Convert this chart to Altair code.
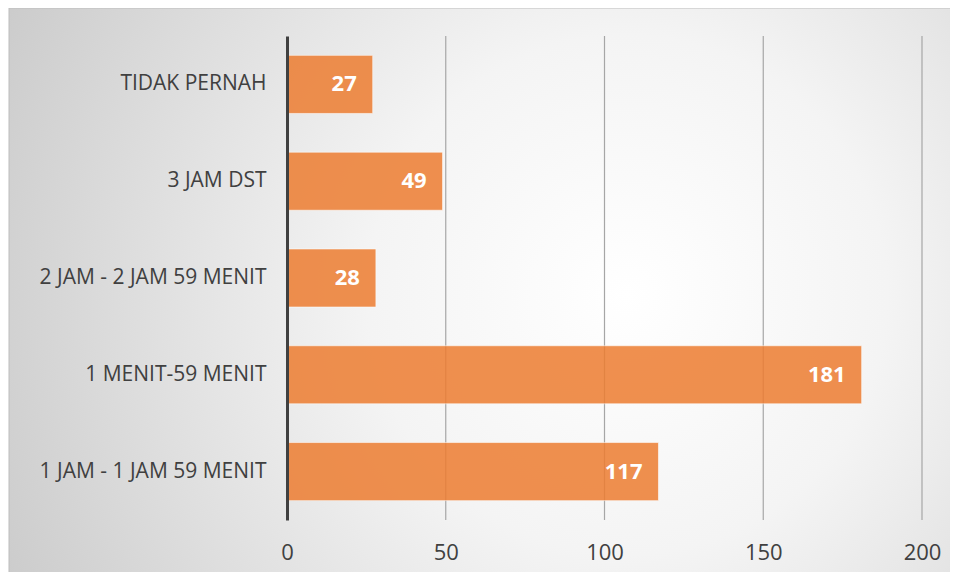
import altair as alt
import pandas as pd

categories = ["TIDAK PERNAH", "3 JAM DST", "2 JAM - 2 JAM 59 MENIT", "1 MENIT-59 MENIT", "1 JAM - 1 JAM 59 MENIT"]
values = [27, 49, 28, 181, 117]
x_ticks = [0, 50, 100, 150, 200]

df = pd.DataFrame({"cat": categories, "val": values})
grid_df = pd.DataFrame({"t": x_ticks[1:]})

W, H = 635, 484
PL, PT, PR, PB = 279, 28, 28, 52
FONT = "Open Sans"

bg = alt.Chart(alt.Data(values=[{"a": 1}])).mark_rect(
    fill=alt.RadialGradient(
        gradient="radial",
        x1=0.65, y1=0.5, r1=0.0,
        x2=0.65, y2=0.5, r2=0.78,
        stops=[alt.GradientStop(offset=0, color="#ffffff"),
               alt.GradientStop(offset=0.35, color="#f4f4f4"),
               alt.GradientStop(offset=1, color="#c6c6c6")],
    ),
    stroke="#bdbdbd", strokeWidth=1,
).encode(
    x=alt.value(-PL + 1), x2=alt.value(W + PR + 10),
    y=alt.value(-PT + 0), y2=alt.value(H + PB + 10),
)

xscale = alt.Scale(domain=[0, 200], nice=False)

grid = alt.Chart(grid_df).mark_rule(color="#a6a6a6", strokeWidth=1.2).encode(
    x=alt.X("t:Q", scale=xscale, title=None),
    y=alt.value(0), y2=alt.value(H),
)

base = alt.Chart(df).encode(
    y=alt.Y("cat:N", sort=categories, title=None,
            scale=alt.Scale(paddingInner=0.4, paddingOuter=0.2),
            axis=alt.Axis(domain=True, domainColor="#404040", domainWidth=3,
                          ticks=False, labelFontSize=21, labelColor="#404040",
                          labelFont=FONT, labelPadding=21, grid=False, labelLimit=300,
                          zindex=1)),
)

bars = base.mark_bar(color="#ED7D31", opacity=0.85, stroke="#ffffff", strokeOpacity=0.6,
                     strokeWidth=1).encode(
    x=alt.X("val:Q", title=None, scale=xscale,
            axis=alt.Axis(values=x_ticks, domain=False, ticks=False, grid=False,
                          labelFontSize=22, labelColor="#404040", labelFont=FONT,
                          labelPadding=22, labelFlush=False, zindex=1)),
)

labels = base.mark_text(align="right", baseline="middle", dx=-16, color="white",
                        fontWeight="bold", fontSize=22, font=FONT).encode(
    x="val:Q", text="val:Q",
)

chart = alt.layer(bg, grid, bars, labels).properties(
    width=W, height=H,
    autosize=alt.AutoSizeParams(type="none"),
    padding={"left": PL, "top": PT, "right": PR, "bottom": PB},
).configure_view(stroke=None).configure(background="transparent")

chart.save("out.html", embed_options={"renderer": "svg", "actions": False})
